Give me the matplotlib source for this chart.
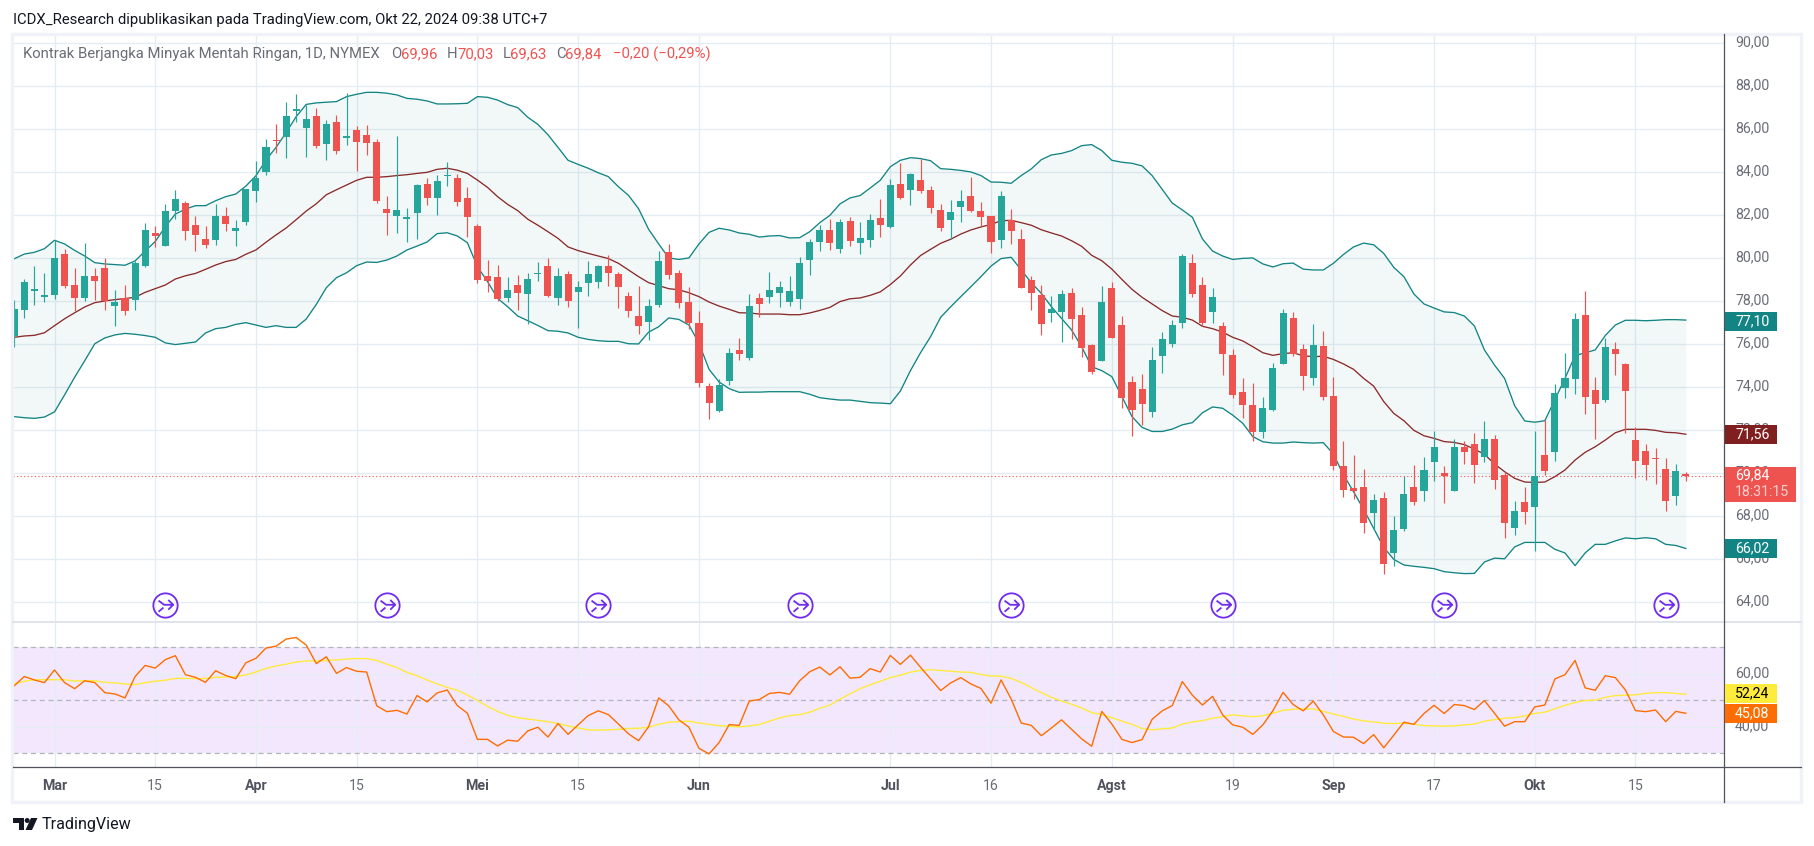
import matplotlib
matplotlib.use("Agg")
import matplotlib.pyplot as plt
from matplotlib.patches import Rectangle, Polygon, Circle
from matplotlib.path import Path
from matplotlib.transforms import Affine2D, ScaledTranslation

open_px = [76.37,77.57,78.47,78.19,78.27,80.17,78.73,78.12,79.15,79.52,77.75,78.12,78.03,79.61,81.15,80.54,82.17,82.54,81.52,80.87,
80.82,81.94,81.24,81.66,83.10,83.99,85.47,85.61,86.82,86.03,86.59,85.29,86.31,85.57,85.94,85.71,85.38,82.27,81.94,81.80,
82.08,83.43,82.78,83.80,83.71,82.78,81.47,79.15,79.10,78.13,78.73,78.31,79.24,79.61,78.13,79.24,78.41,78.82,78.87,79.61,
79.24,78.22,77.29,77.01,77.80,80.27,79.29,77.94,76.96,74.03,72.87,74.27,75.71,75.34,78.13,78.17,78.36,77.94,78.08,79.89,
80.73,81.29,80.41,81.71,80.68,80.82,81.85,81.43,83.43,83.15,83.61,83.15,82.22,81.75,82.36,82.87,82.17,81.94,80.82,81.75,
80.87,78.96,78.27,77.43,77.47,78.36,77.34,75.94,75.20,78.59,76.87,74.22,73.89,72.82,75.43,75.99,76.96,79.75,78.73,77.47,
76.82,75.47,73.75,73.15,71.89,72.92,75.06,77.20,75.75,74.40,75.89,73.57,70.31,69.29,69.34,68.13,68.83,66.27,67.38,69.34,
69.15,70.50,69.99,69.15,71.20,71.34,70.73,71.57,69.90,67.43,68.64,68.41,70.83,70.97,73.94,74.36,77.34,73.85,73.38,75.76,
75.06,71.52,71.01,70.69,70.17,68.92,69.96]
high_px = [78.03,79.00,79.61,79.27,80.82,80.39,79.50,80.68,79.50,79.99,78.50,78.73,79.84,81.61,81.47,82.50,83.15,82.64,81.94,81.47,
82.50,82.36,81.75,83.20,84.50,85.52,86.22,87.24,87.61,87.10,86.96,86.40,86.64,87.66,86.13,86.17,85.52,82.87,85.66,82.31,
83.43,83.71,83.85,84.45,83.89,83.29,81.57,79.89,79.66,79.10,79.20,79.29,79.80,79.99,79.52,79.38,78.92,79.85,79.66,80.13,
79.33,78.41,78.68,78.08,80.31,80.64,79.43,78.64,77.52,74.17,74.36,75.80,76.27,78.31,78.36,79.33,78.92,79.15,80.03,80.87,
81.52,81.80,81.80,81.89,81.66,82.03,82.73,83.66,84.41,83.94,84.59,83.34,82.50,82.68,83.15,83.75,82.59,81.94,83.10,82.27,
81.34,79.15,78.73,78.22,78.50,78.59,77.71,75.99,78.68,78.87,77.29,74.50,74.59,75.85,76.54,77.10,80.17,80.17,79.10,78.59,
77.01,75.75,74.40,74.17,73.52,75.10,77.61,77.47,75.99,76.92,76.59,74.44,71.48,70.83,70.17,69.01,69.10,68.00,69.85,70.36,
70.73,71.94,70.31,71.57,71.48,71.85,72.41,71.76,70.03,68.69,69.34,71.94,72.45,74.13,75.57,77.43,78.45,74.45,76.27,76.08,
75.10,72.13,71.34,71.15,70.69,70.41,70.03]
low_px = [75.86,77.21,77.80,77.95,78.08,78.59,77.52,78.00,78.03,77.57,76.82,77.34,77.57,79.57,80.50,80.54,81.80,80.82,80.31,80.45,
80.59,81.24,80.54,81.52,82.59,83.85,84.87,84.64,86.31,84.68,85.10,84.54,84.82,85.24,84.03,84.78,82.54,81.06,81.15,80.73,
80.87,82.45,81.99,83.34,82.40,80.96,78.82,78.41,77.99,77.94,77.57,76.92,78.92,78.17,77.80,77.71,76.73,78.22,78.59,78.68,
77.66,77.24,76.45,76.17,77.71,79.01,77.66,76.68,73.99,72.50,72.82,74.08,75.24,75.24,77.24,77.89,77.71,77.75,77.61,79.20,
80.31,80.36,80.22,80.54,80.17,80.50,80.96,81.38,82.73,82.45,83.01,82.08,81.24,80.87,81.66,82.13,81.47,80.22,80.45,80.64,
78.59,77.57,76.41,77.01,76.08,76.22,75.38,74.59,75.20,76.27,73.01,71.71,72.22,72.59,74.64,75.85,76.73,78.17,76.82,76.96,
74.54,73.47,72.54,71.47,71.61,72.87,75.06,75.43,73.85,74.08,73.38,70.13,68.87,68.78,67.20,67.34,65.29,65.66,67.29,68.50,
68.69,69.62,68.59,69.15,70.41,69.52,70.50,69.24,66.96,67.10,67.62,66.36,69.90,70.55,73.48,73.66,72.73,71.57,73.29,74.55,
71.85,69.76,69.66,69.48,68.22,68.50,69.63]
close_px = [77.61,78.87,78.54,78.27,79.99,78.68,78.12,79.15,78.92,77.99,77.94,77.52,79.75,81.29,81.01,82.17,82.73,81.24,81.06,80.59,
81.94,81.57,81.38,83.20,83.71,85.15,85.43,86.59,86.92,86.45,85.20,86.22,84.96,85.66,85.38,85.33,82.64,82.08,82.22,81.89,
83.38,82.78,83.57,83.85,82.59,81.89,78.96,78.92,78.08,78.50,78.36,79.01,79.29,78.22,79.15,77.99,78.64,79.24,79.61,79.29,
78.64,77.52,76.82,77.75,79.85,79.20,77.89,76.96,74.17,73.24,74.08,75.57,75.52,77.75,77.85,78.50,78.64,78.45,79.75,80.73,
81.29,80.68,81.66,80.78,80.92,81.75,81.52,83.38,82.78,83.89,83.10,82.31,81.38,82.13,82.64,82.17,81.89,80.73,82.87,81.24,
78.59,78.36,76.92,77.61,78.31,77.15,75.80,74.68,77.94,76.27,73.47,72.92,73.20,75.24,76.22,76.87,80.08,78.31,76.96,78.17,
75.52,73.61,73.15,71.89,73.01,74.87,77.43,75.52,74.50,75.94,73.52,70.31,69.20,69.15,67.66,68.73,65.76,67.34,69.01,68.64,
70.13,71.20,69.85,71.20,70.97,70.36,71.57,69.66,67.66,68.22,68.17,69.85,70.08,73.71,74.41,77.15,73.52,73.20,75.85,75.52,
73.80,70.55,70.36,70.64,68.69,70.08,69.84]

bb_upper = [79.95,80.17,80.25,80.42,80.81,80.64,80.34,80.08,79.77,79.71,79.68,79.65,79.85,80.31,80.75,81.44,82.03,82.26,82.42,82.42,
82.65,82.84,82.96,83.33,83.81,84.54,85.13,85.82,86.56,87.13,87.20,87.23,87.26,87.49,87.60,87.69,87.69,87.65,87.57,87.41,
87.37,87.29,87.15,87.15,87.16,87.18,87.49,87.46,87.33,87.12,86.98,86.53,86.20,85.72,85.13,84.53,84.34,84.16,83.95,83.77,
83.30,82.90,82.28,81.32,80.64,79.99,79.92,79.99,80.64,81.18,81.37,81.29,81.15,81.09,80.96,81.01,81.03,80.92,80.93,81.21,
81.63,81.97,82.50,82.78,82.89,83.24,83.60,84.23,84.53,84.65,84.61,84.51,84.14,84.11,84.06,83.99,83.82,83.52,83.51,83.46,
83.82,84.13,84.56,84.78,84.85,84.98,85.21,85.26,84.98,84.53,84.44,84.39,84.27,83.82,83.18,82.54,82.22,81.88,80.87,80.31,
80.08,79.92,79.97,79.99,79.71,79.57,79.72,79.75,79.47,79.43,79.43,79.74,80.15,80.50,80.68,80.60,80.20,79.55,79.12,78.31,
77.85,77.66,77.48,77.45,77.29,76.83,75.71,75.01,74.39,73.12,72.41,72.35,72.42,73.40,74.39,75.45,75.58,75.71,76.38,76.87,
77.09,77.09,77.07,77.09,77.12,77.12,77.10]
bb_basis = [76.30,76.36,76.39,76.51,76.84,77.16,77.44,77.71,77.91,77.99,78.05,78.10,78.16,78.39,78.56,78.73,79.01,79.16,79.27,79.46,
79.66,79.82,79.92,80.16,80.36,80.72,81.06,81.38,81.77,82.17,82.51,82.93,83.16,83.38,83.60,83.74,83.74,83.77,83.82,83.86,
83.92,83.97,84.11,84.16,84.07,83.92,83.61,83.27,82.84,82.48,82.19,81.79,81.51,81.21,80.90,80.50,80.33,80.20,80.08,79.96,
79.74,79.43,79.12,78.84,78.70,78.56,78.51,78.37,78.19,77.94,77.75,77.60,77.44,77.43,77.38,77.38,77.38,77.35,77.35,77.43,
77.55,77.69,77.96,78.09,78.13,78.25,78.41,78.75,79.15,79.66,80.10,80.39,80.67,80.86,81.10,81.29,81.43,81.55,81.72,81.74,
81.63,81.51,81.30,81.15,81.01,80.79,80.53,80.11,79.86,79.47,78.99,78.53,78.16,77.85,77.54,77.29,77.23,77.10,76.81,76.70,
76.54,76.30,76.13,75.86,75.58,75.46,75.54,75.58,75.44,75.40,75.42,75.27,75.06,74.81,74.39,74.03,73.31,72.76,72.42,71.97,
71.72,71.60,71.45,71.41,71.31,71.10,70.86,70.41,70.05,69.74,69.57,69.55,69.57,69.82,70.13,70.59,70.95,71.21,71.52,71.86,
72.02,72.02,72.02,71.97,71.88,71.86,71.79]
bb_lower = [72.61,72.56,72.53,72.59,72.83,73.62,74.44,75.21,76.00,76.27,76.41,76.48,76.44,76.38,76.30,76.04,75.96,76.02,76.08,76.50,
76.70,76.76,76.90,76.98,76.87,76.76,76.84,76.76,76.76,77.15,77.83,78.61,79.07,79.30,79.63,79.80,79.78,79.89,80.08,80.36,
80.54,80.73,81.12,81.16,81.01,80.70,79.58,78.89,78.11,77.72,77.29,77.07,76.85,76.61,76.58,76.50,76.30,76.20,76.14,76.11,
76.11,76.00,75.99,76.54,76.79,77.20,77.13,76.87,76.02,74.81,74.22,73.91,73.74,73.75,73.75,73.77,73.77,73.77,73.77,73.65,
73.49,73.43,73.38,73.38,73.32,73.26,73.24,73.21,73.80,74.75,75.58,76.33,77.23,77.72,78.19,78.65,79.12,79.61,79.96,80.02,
79.43,78.84,78.34,77.72,77.18,76.64,75.86,74.93,74.75,74.47,73.54,72.61,72.11,71.92,71.92,72.03,72.23,72.33,72.79,73.06,
73.00,72.68,72.30,71.68,71.44,71.38,71.38,71.43,71.40,71.38,71.40,70.87,69.90,69.12,68.30,67.41,66.53,65.97,65.71,65.65,
65.60,65.54,65.40,65.35,65.31,65.32,65.85,66.03,66.00,66.55,66.76,66.76,66.76,66.44,66.27,65.68,66.27,66.67,66.67,66.83,
66.97,66.93,66.98,66.93,66.67,66.62,66.48]

rsi = [55.5,59.0,57.7,56.7,61.5,56.7,54.4,57.4,56.7,52.9,52.4,50.9,59.0,63.2,62.2,65.4,66.9,59.7,58.7,56.8,
61.2,59.4,58.2,64.2,65.9,69.8,70.5,73.2,73.8,70.9,63.9,66.5,60.2,62.4,61.0,60.7,47.9,45.7,46.2,44.8,
51.8,49.4,52.8,53.9,48.0,45.1,35.2,35.2,32.7,34.9,34.5,38.4,39.8,36.1,41.2,37.1,40.7,44.2,46.0,44.6,
41.0,37.3,34.7,40.0,50.9,47.9,42.6,39.8,31.8,29.7,34.0,40.8,40.5,49.7,50.3,52.6,53.0,52.3,57.4,60.8,
62.6,59.6,62.7,58.4,58.7,62.0,60.7,67.0,63.6,67.1,62.5,58.1,53.7,56.6,58.6,56.2,54.5,48.9,57.7,50.5,
41.4,40.5,36.6,39.5,42.6,39.0,35.4,32.6,45.8,41.0,35.2,34.0,35.1,42.8,46.0,48.0,57.1,51.9,48.2,51.5,
44.5,40.7,39.8,37.1,40.7,46.1,53.0,48.4,46.0,49.7,44.5,38.2,36.1,36.0,33.6,37.0,32.0,36.8,41.7,40.9,
45.0,48.1,45.0,48.4,48.0,46.5,49.9,45.1,40.2,41.9,41.9,47.5,48.2,58.1,59.7,65.1,54.7,53.8,59.3,58.6,
53.9,46.1,45.7,46.3,41.9,45.8,45.08]
rsi_ma = [56.2,57.2,57.8,57.8,57.8,57.8,57.3,57.4,57.4,56.8,56.6,56.2,55.9,56.7,57.2,57.6,58.3,58.3,58.2,58.3,
58.7,58.8,59.0,59.6,60.7,62.1,63.0,63.7,64.5,64.9,64.9,65.1,65.3,65.6,65.8,65.8,65.1,63.7,62.4,60.6,
59.3,57.7,56.2,54.9,53.8,52.0,50.0,47.7,45.8,44.3,43.4,42.9,42.4,41.9,41.2,40.3,39.5,38.8,38.7,38.8,
39.0,39.3,39.4,39.8,40.9,41.7,41.9,42.1,41.4,40.9,40.4,40.2,39.9,40.3,40.8,42.1,43.3,44.2,44.6,45.5,
47.0,48.2,50.4,52.4,54.4,55.9,57.2,58.6,59.5,60.7,61.3,61.6,61.3,61.0,60.7,60.6,59.8,59.2,59.1,58.3,
56.8,54.8,52.9,51.1,49.7,48.5,47.1,45.3,44.6,43.4,42.1,40.9,39.3,38.8,39.2,39.5,41.0,41.8,42.3,43.2,
43.8,44.5,44.1,43.8,44.1,45.1,46.2,46.6,46.7,46.7,45.8,44.8,43.9,42.9,42.2,41.8,41.3,41.2,41.3,40.9,
40.4,40.3,40.2,40.3,40.7,41.0,42.1,42.7,43.2,43.4,44.1,45.0,45.5,46.8,48.1,49.2,49.9,50.1,51.1,51.8,
51.9,52.1,52.6,52.9,52.9,52.6,52.24]

time_idx = [4,14,24,34,46,56,68,87,97,109,121,131,141,151,161]
time_labels = ["Mar","15","Apr","15","Mei","15","Jun","Jul","16","Agst","19","Sep","17","Okt","15"]
month_labels = {"Mar","Apr","Mei","Jun","Jul","Agst","Sep","Okt"}
price_ticks = [64,66,68,70,72,74,76,78,80,82,84,86,88,90]
rsi_ticks = [40,60]
event_idx = [15,37,58,78,99,120,142,164]

W, H = 1814, 846
RED, GREEN = "#ef5350", "#26a69a"
TEAL, MAROON = "#138484", "#8b2a2a"
GREY = "#6a6d78"
GRID = "#e4edf3"
FONT = "Roboto"
plt.rcParams["font.family"] = [FONT, "DejaVu Sans"]

fig = plt.figure(figsize=(W/100, H/100), dpi=100, facecolor="white")
px = Affine2D().scale(1/W, -1/H).translate(0, 1) + fig.transFigure

L, R, T, M, B = 12.7, 1724.0, 36.0, 622.0, 767.0
ax = fig.add_axes([L/W, 1-M/H, (R-L)/W, (M-T)/H])
ar = fig.add_axes([L/W, 1-B/H, (R-L)/W, (B-M)/H], sharex=ax)

xs = list(range(len(close_px)))
ax.set_xlim(-0.152, 169.79)
ax.set_ylim(63.06, 90.31)
ar.set_ylim(24.73, 79.66)

for a in (ax, ar):
    for s in a.spines.values():
        s.set_visible(False)
    a.set_axisbelow(True)
    a.grid(True, color=GRID, lw=1.0)
    a.yaxis.tick_right()
    a.tick_params(length=0, labelsize=10.2, labelcolor=GREY, pad=8)

ax.set_xticks(time_idx)
ax.tick_params(labelbottom=False)
ax.set_yticks(price_ticks)
ax.set_yticklabels([f"{v},00" for v in price_ticks])
ar.set_yticks(rsi_ticks)
ar.set_yticklabels([f"{v},00" for v in rsi_ticks])
ar.set_xticks(time_idx)
ar.set_xticklabels(time_labels)
ar.tick_params(axis="x", pad=8.5)
for lab in ar.get_xticklabels():
    if lab.get_text() in month_labels:
        lab.set_fontweight("bold")
        lab.set_color("#50535e")
lift = ScaledTranslation(0, 2/100, fig.dpi_scale_trans)
for a in (ax, ar):
    for lab in a.get_yticklabels():
        lab.set_transform(lab.get_transform() + lift)

ax.fill_between(xs, bb_lower, bb_upper, color=TEAL, alpha=0.05, lw=0, zorder=1)
ax.plot(xs, bb_upper, color=TEAL, lw=0.95, zorder=2)
ax.plot(xs, bb_lower, color=TEAL, lw=0.95, zorder=2)
ax.plot(xs, bb_basis, color=MAROON, lw=0.95, zorder=2)

colors = [GREEN if c >= o else RED for o, c in zip(open_px, close_px)]
ax.vlines(xs, low_px, high_px, colors=colors, lw=0.85, zorder=3)
ax.bar(xs, [max(abs(c-o), 0.05) for o, c in zip(open_px, close_px)],
       bottom=[min(o, c) for o, c in zip(open_px, close_px)],
       width=0.7, color=colors, lw=0, zorder=4)
ax.axhline(close_px[-1], color=RED, lw=0.8, ls=(0, (1, 2.2)), zorder=3)

pos = ax.get_xaxis_transform()
ypos = [(M-605.3)/(M-T)] * len(event_idx)
ax.plot(event_idx, ypos, transform=pos, ls="", marker="o", ms=17.5, mfc="none",
        mec="#6f2bf0", mew=1.3, zorder=6, clip_on=False)
arrow = Path([(-.5,.35),(-.1,.05),(.55,.05),(.2,.4),(.55,.05),(.2,-.3),(-.5,-.45),(-.15,-.15)],
             [Path.MOVETO,Path.LINETO,Path.LINETO,Path.MOVETO,Path.LINETO,Path.LINETO,Path.MOVETO,Path.LINETO])
ax.plot(event_idx, ypos, transform=pos, ls="", marker=arrow, ms=11, mfc="none",
        mec="#6f2bf0", mew=1.3, zorder=6, clip_on=False)

ar.axhspan(30, 70, facecolor="#8e1cf0", alpha=0.1, lw=0, zorder=0.5)
for lvl in (70, 50, 30):
    ar.axhline(lvl, color="#b2b5be", lw=0.9, ls=(0, (4, 3)), zorder=1)
ar.plot(xs, rsi_ma, color="#ffeb3b", lw=1.0, zorder=2)
ar.plot(xs, rsi, color="#ff6d00", lw=1.0, zorder=3)

# frame, separators
fig.add_artist(Rectangle((11.5, 34.5), 1789.5, 767.5, transform=px, fill=False, ec="#eff2f8", lw=2.4, zorder=9))
fig.add_artist(plt.Line2D([L, 1801], [622, 622], transform=px, color="#e0e3eb", lw=1.4, zorder=9))
fig.add_artist(plt.Line2D([L, 1801], [767, 767], transform=px, color="#50535e", lw=0.9, zorder=9))
fig.add_artist(plt.Line2D([R, R], [34, 802], transform=px, color="#50535e", lw=0.9, zorder=9))

def tag(y0, y1, x1, col, txt, tc="white"):
    fig.add_artist(Rectangle((R+0.5, y0), x1-R, y1-y0, transform=px, fc=col, ec="none", zorder=10))
    fig.text(1735, (y0+y1)/2, txt, transform=px, color=tc, fontsize=10.2, va="center", ha="left", zorder=11)

tag(312, 331, 1776, TEAL, "77,10")
tag(425, 444, 1776, "#801f1f", "71,56")
tag(539, 558, 1776, TEAL, "66,02")
fig.add_artist(Rectangle((R+0.5, 467), 71, 34.7, transform=px, fc=RED, ec="none", zorder=10))
fig.text(1735, 475.5, "69,84", transform=px, color="white", fontsize=10.2, va="center", zorder=11)
fig.text(1735, 491.5, "18:31:15", transform=px, color="#fbd0cf", fontsize=10.2, va="center", zorder=11)
tag(683.7, 702.7, 1776, "#ffeb3b", "52,24", tc="black")
tag(704, 722.7, 1776, "#ff6d00", "45,08")

fig.text(13, 20, "ICDX_Research dipublikasikan pada TradingView.com, Okt 22, 2024 09:38 UTC+7",
         transform=px, fontsize=10.75, color="#131722", va="center")

def leg(x, txt, col):
    fig.text(x, 54, txt, transform=px, fontsize=10.7, color=col, va="center", zorder=8)
leg(23, "Kontrak Berjangka Minyak Mentah Ringan, 1D, NYMEX", GREY)
leg(391, "O", GREY); leg(401, "69,96", "#ef5350")
leg(447, "H", GREY); leg(457, "70,03", "#ef5350")
leg(503, "L", GREY); leg(510, "69,63", "#ef5350")
leg(556, "C", GREY); leg(565, "69,84", "#ef5350")
leg(613, "\u22120,20 (\u22120,29%)", "#ef5350")

# footer logo
INK = "#131722"
fig.add_artist(Polygon([(13,818),(24,818),(24,830),(18.5,830),(18.5,823),(13,823)], transform=px, fc=INK, ec="none"))
fig.add_artist(Circle((27.2,820.5), 2.5, transform=px, fc=INK, ec="none"))
fig.add_artist(Polygon([(31,818),(37.5,818),(32,830),(25.5,830)], transform=px, fc=INK, ec="none"))
fig.text(42, 824.5, "TradingView", transform=px, fontsize=11.6, color=INK, va="center")

fig.savefig("out.png", dpi=100, facecolor="white")
